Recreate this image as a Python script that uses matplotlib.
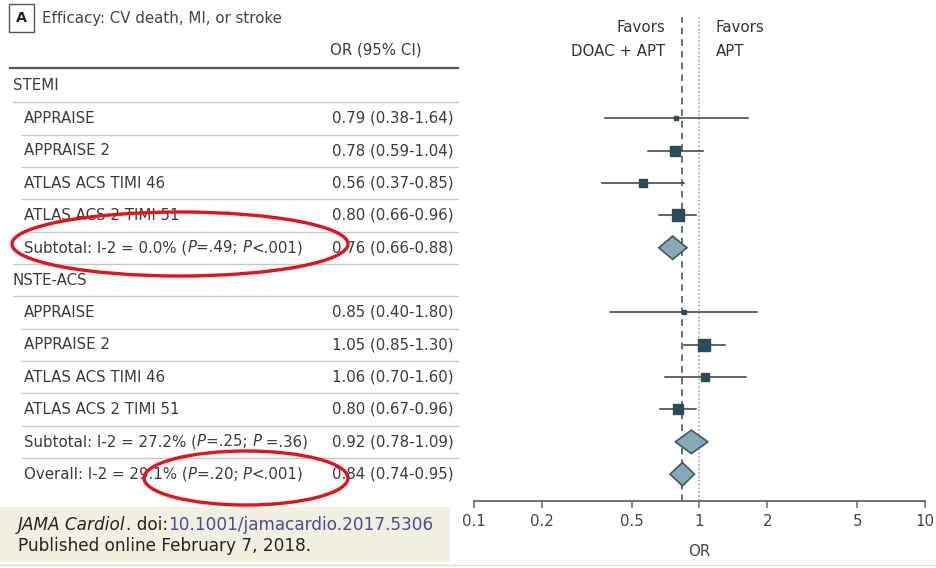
import numpy as np
import matplotlib
matplotlib.use('Agg')
import matplotlib.pyplot as plt
from matplotlib import font_manager
from matplotlib.patches import Ellipse, Rectangle, Polygon

# Dữ liệu (OR và khoảng tin cậy 95%)
stemi_names = ['APPRAISE', 'APPRAISE 2', 'ATLAS ACS TIMI 46', 'ATLAS ACS 2 TIMI 51']
stemi_or = [0.79, 0.78, 0.56, 0.80]
stemi_lo = [0.38, 0.59, 0.37, 0.66]
stemi_hi = [1.64, 1.04, 0.85, 0.96]
stemi_w = [2, 22, 10, 40]
stemi_sub = (0.76, 0.66, 0.88)
stemi_sub_label = [('Subtotal: I-2 = 0.0% (', 'normal'), ('P', 'italic'), ('=.49; ', 'normal'),
                   ('P', 'italic'), ('<.001)', 'normal')]

nste_names = ['APPRAISE', 'APPRAISE 2', 'ATLAS ACS TIMI 46', 'ATLAS ACS 2 TIMI 51']
nste_or = [0.85, 1.05, 1.06, 0.80]
nste_lo = [0.40, 0.85, 0.70, 0.67]
nste_hi = [1.80, 1.30, 1.60, 0.96]
nste_w = [2, 40, 10, 33]
nste_sub = (0.92, 0.78, 1.09)
nste_sub_label = [('Subtotal: I-2 = 27.2% (', 'normal'), ('P', 'italic'), ('=.25; ', 'normal'),
                  ('P', 'italic'), (' =.36)', 'normal')]

overall = (0.84, 0.74, 0.95)
overall_label = [('Overall: I-2 = 29.1% (', 'normal'), ('P', 'italic'), ('=.20; ', 'normal'),
                 ('P', 'italic'), ('<.001)', 'normal')]

xticks = [0.1, 0.2, 0.5, 1, 2, 5, 10]
xtick_labels = ['0.1', '0.2', '0.5', '1', '2', '5', '10']

# Chọn font hẹp nếu có
FONT, FS = ['DejaVu Sans'], 10.8
for name in ['Liberation Sans Narrow', 'DejaVu Sans Condensed']:
    try:
        font_manager.findfont(name, fallback_to_default=False)
        FONT, FS = [name, 'DejaVu Sans'], 13
        break
    except ValueError:
        pass
plt.rcParams['font.family'] = FONT
TXT = '#3b3b3b'


def fmt(o, l, h):
    return f'{o:.2f} ({l:.2f}-{h:.2f})'


# Khung hình theo pixel
W, H = 937, 568
fig = plt.figure(figsize=(W / 100, H / 100), dpi=100)
bg = fig.add_axes([0, 0, 1, 1])
bg.set_xlim(0, W)
bg.set_ylim(H, 0)
bg.axis('off')
renderer = fig.canvas.get_renderer()

ROW0, STEP = 86, 32.35
def row_y(i):
    return ROW0 + STEP * i


def draw_runs(x, y, runs, **kw):
    for s, style in runs:
        t = bg.text(x, y, s, fontstyle=style, **kw)
        x += t.get_window_extent(renderer).width
    return x


# Tiêu đề
bg.add_patch(Rectangle((9, 4), 25, 28, fill=False, ec='#555555', lw=1))
bg.text(21.5, 18, 'A', ha='center', va='center', fontsize=FS * 0.95, color='#222222', weight='bold')
bg.text(42, 18, 'Efficacy: CV death, MI, or stroke', ha='left', va='center', fontsize=FS, color='#444444')
bg.text(330, 50, 'OR (95% CI)', ha='left', va='center', fontsize=FS, color=TXT)
bg.plot([10, 458], [68, 68], color='#555555', lw=1.6)

# Bảng
rows = []
rows.append(('STEMI', None, 'head'))
for n, o, l, h in zip(stemi_names, stemi_or, stemi_lo, stemi_hi):
    rows.append((n, fmt(o, l, h), 'study'))
rows.append((stemi_sub_label, fmt(*stemi_sub), 'sub'))
rows.append(('NSTE-ACS', None, 'head'))
for n, o, l, h in zip(nste_names, nste_or, nste_lo, nste_hi):
    rows.append((n, fmt(o, l, h), 'study'))
rows.append((nste_sub_label, fmt(*nste_sub), 'sub'))
rows.append((overall_label, fmt(*overall), 'sub'))

for i, (lab, val, kind) in enumerate(rows):
    y = row_y(i)
    if kind == 'head':
        bg.text(13, y, lab, ha='left', va='center', fontsize=FS, color=TXT)
    elif kind == 'study':
        bg.text(24, y, lab, ha='left', va='center', fontsize=FS, color=TXT)
    else:
        draw_runs(24, y, lab, ha='left', va='center', fontsize=FS, color=TXT)
    if val:
        bg.text(454, y, val, ha='right', va='center', fontsize=FS, color=TXT)
    if i < len(rows) - 1:
        ly = y + STEP / 2
        x0 = 13 if kind == 'head' or rows[i + 1][2] == 'head' else 22
        bg.plot([x0, 458], [ly, ly], color='#c8c8c8', lw=1)

# Chú thích
FOOT = ['DejaVu Sans']
bg.add_patch(Rectangle((0, 507), 450, 55, color='#f1eee2', lw=0))
xd = draw_runs(18, 525, [('JAMA Cardiol', 'italic'), ('. doi:', 'normal')],
               ha='left', va='center', fontsize=12.2, color='#222222', family=FOOT)
bg.text(xd, 525, '10.1001/jamacardio.2017.5306', ha='left', va='center', fontsize=12.2,
        color='#4a4a8c', family=FOOT)
bg.text(18, 546, 'Published online February 7, 2018.', ha='left', va='center', fontsize=12.2,
        color='#222222', family=FOOT)
bg.plot([0, W], [565, 565], color='#dddddd', lw=1)

# Vòng đỏ
bg.add_patch(Ellipse((180, 244), 336, 64, fill=False, ec='#e3121c', lw=2.4, zorder=10))
bg.add_patch(Ellipse((246, 478), 204, 54, fill=False, ec='#e3121c', lw=2.4, zorder=10))

# Favors
bg.text(665, 27, 'Favors', ha='right', va='center', fontsize=FS, color='#333333')
bg.text(665, 52, 'DOAC + APT', ha='right', va='center', fontsize=FS, color='#333333')
bg.text(716, 27, 'Favors', ha='left', va='center', fontsize=FS, color='#333333')
bg.text(716, 52, 'APT', ha='left', va='center', fontsize=FS, color='#333333')

# Biểu đồ rừng
ax_left, ax_right, ax_top, ax_bot = 474, 925, 17, 501
ax = fig.add_axes([ax_left / W, (H - ax_bot) / H, (ax_right - ax_left) / W, (ax_bot - ax_top) / H])
ax.patch.set_alpha(0)
ax.set_xscale('log')
ax.set_xlim(0.1, 10)
ax.set_ylim((ax_bot - ROW0) / STEP, (ax_top - ROW0) / STEP)
for s in ['top', 'right', 'left']:
    ax.spines[s].set_visible(False)
ax.spines['bottom'].set_color('#666666')
ax.spines['bottom'].set_linewidth(1.3)
ax.set_yticks([])
ax.set_xticks(xticks)
ax.set_xticklabels(xtick_labels)
ax.minorticks_off()
ax.tick_params(axis='x', direction='out', length=5, width=1.1, color='#666666',
               labelsize=FS, labelcolor='#444444', pad=4)
ax.set_xlabel('OR', fontsize=FS, color='#444444', labelpad=11)

ax.axvline(overall[0], color='#555555', lw=1.2, ls=(0, (4, 3)), zorder=1)
ax.axvline(1, color='#bbbbbb', lw=1.4, ls=(0, (1, 1)), zorder=1)


def draw_studies(start, ors, los, his, ws):
    for k, (o, l, h, w) in enumerate(zip(ors, los, his, ws)):
        y = start + k
        ax.plot([l, h], [y, y], color='#3a3a3a', lw=1.1, zorder=2)
        side = 3 + 1.3 * np.sqrt(w)
        ax.plot([o], [y], marker='s', ms=side * 0.72, color='#2c4b56', mec='#2c4b56', zorder=3)


def draw_diamond(y, est):
    o, l, h = est
    ax.add_patch(Polygon([[l, y], [o, y - 0.36], [h, y], [o, y + 0.36]], closed=True,
                         fc='#86a9b6', ec='#3f5862', lw=1.2, zorder=3))


draw_studies(1, stemi_or, stemi_lo, stemi_hi, stemi_w)
draw_diamond(5, stemi_sub)
draw_studies(7, nste_or, nste_lo, nste_hi, nste_w)
draw_diamond(11, nste_sub)
draw_diamond(12, overall)

fig.savefig('out.png', dpi=100)
